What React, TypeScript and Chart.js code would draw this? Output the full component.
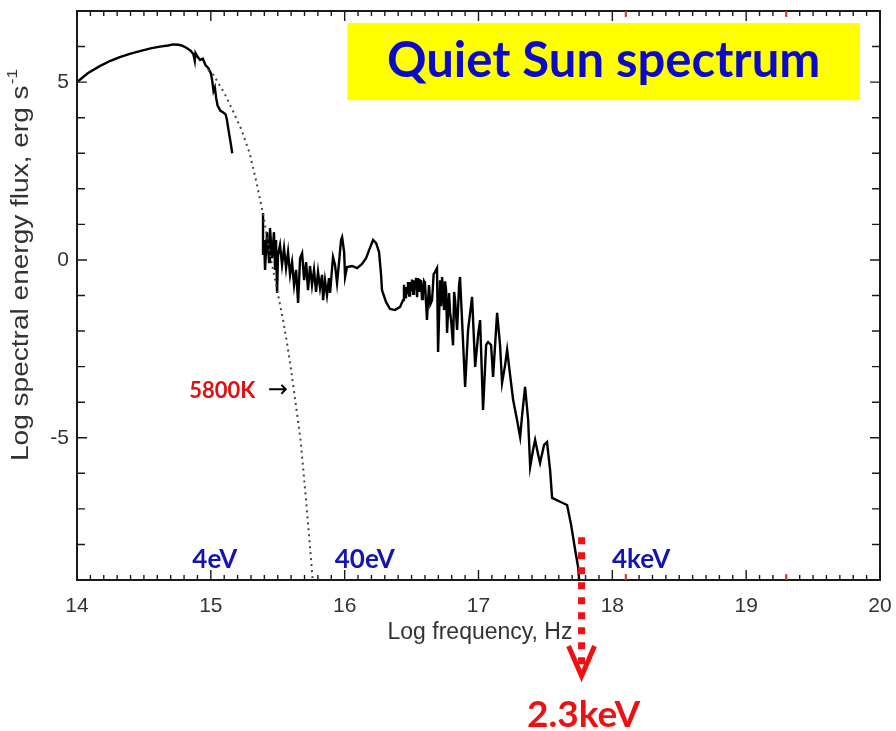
import React, { useEffect, useRef } from "react";
import { Chart, registerables } from "chart.js";

Chart.register(...registerables);

// Photospheric (optical / near-UV) part of the observed spectrum
const seg1X = [14.0, 14.08, 14.17, 14.25, 14.32, 14.4, 14.47, 14.55, 14.62, 14.68, 14.72, 14.76, 14.79, 14.82, 14.85, 14.87, 14.88, 14.885, 14.9, 14.92, 14.94, 14.96, 14.98, 15.0, 15.01, 15.02, 15.03, 15.04, 15.05, 15.07, 15.09, 15.11, 15.12, 15.13, 15.15, 15.16];
const seg1Y = [5.0, 5.25, 5.45, 5.6, 5.7, 5.8, 5.87, 5.95, 6.0, 6.03, 6.06, 6.05, 6.02, 5.96, 5.88, 5.78, 5.6, 5.82, 5.72, 5.62, 5.66, 5.48, 5.4, 5.25, 5.05, 4.75, 4.85, 4.55, 4.35, 4.2, 4.15, 4.1, 3.95, 3.7, 3.25, 3.0];

// EUV / X-ray part of the observed spectrum
const seg2X = [15.39, 15.39, 15.398, 15.405, 15.42, 15.435, 15.442, 15.457, 15.472, 15.48, 15.487, 15.495, 15.502, 15.517, 15.532, 15.547, 15.562, 15.577, 15.592, 15.607, 15.622, 15.637, 15.652, 15.667, 15.682, 15.697, 15.712, 15.726, 15.741, 15.756, 15.771, 15.786, 15.801, 15.816, 15.831, 15.839, 15.853, 15.868, 15.883, 15.891, 15.906, 15.913, 15.928, 15.943, 15.958, 15.973, 15.981, 15.996, 16.003, 16.018, 16.055, 16.093, 16.13, 16.16, 16.189, 16.212, 16.235, 16.257, 16.272, 16.279, 16.309, 16.339, 16.376, 16.414, 16.436, 16.443, 16.451, 16.458, 16.466, 16.473, 16.481, 16.488, 16.496, 16.503, 16.511, 16.518, 16.526, 16.533, 16.541, 16.548, 16.556, 16.563, 16.571, 16.578, 16.585, 16.593, 16.6, 16.615, 16.63, 16.64, 16.653, 16.665, 16.675, 16.69, 16.698, 16.713, 16.72, 16.728, 16.743, 16.75, 16.758, 16.765, 16.78, 16.788, 16.795, 16.81, 16.818, 16.825, 16.84, 16.855, 16.862, 16.877, 16.9, 16.922, 16.952, 16.975, 16.997, 17.012, 17.034, 17.057, 17.072, 17.094, 17.109, 17.139, 17.161, 17.176, 17.199, 17.214, 17.236, 17.259, 17.288, 17.311, 17.326, 17.348, 17.371, 17.386, 17.408, 17.423, 17.446, 17.46, 17.49, 17.512, 17.535, 17.55, 17.61, 17.662, 17.692, 17.722, 17.744, 17.752];
const seg2Y = [1.32, 0.14, 0.56, -0.28, 0.78, -0.06, 0.9, 0.05, 0.78, -0.28, 0.56, -0.93, 0.14, 0.42, -0.14, 0.33, -0.23, 0.22, -0.42, -0.06, -0.71, -0.28, -1.21, 0.05, 0.19, -0.57, -0.06, -0.85, -0.17, -0.71, -0.28, -0.9, -0.34, -0.79, -0.42, -1.13, -0.57, -0.99, -0.51, -0.93, -0.23, 0.08, -0.14, -0.65, -0.06, 0.56, 0.64, 0.22, -0.48, -0.2, -0.17, -0.23, -0.11, 0.05, 0.34, 0.56, 0.47, 0.22, -0.42, -0.85, -1.18, -1.38, -1.41, -1.32, -1.13, -0.7, -1.05, -0.76, -0.93, -0.62, -1.0, -0.62, -0.85, -0.55, -0.95, -0.57, -0.79, -0.5, -1.05, -0.51, -0.9, -0.58, -0.6, -1.1, -0.99, -0.6, -0.65, -1.69, -0.71, -1.25, -1.13, -0.4, -0.34, -0.23, -2.59, -0.57, -1.3, -0.48, -1.41, -0.6, -0.85, -2.05, -0.93, -1.5, -1.69, -2.4, -0.9, -1.13, -1.97, -0.71, -0.48, -1.69, -3.57, -1.97, -1.04, -3.01, -2.11, -1.69, -4.22, -2.39, -2.31, -2.39, -3.29, -1.49, -2.39, -3.46, -2.95, -2.53, -3.23, -3.94, -4.5, -4.98, -4.36, -3.57, -4.5, -5.82, -5.34, -5.06, -5.48, -5.71, -5.2, -5.12, -5.91, -6.69, -6.8, -6.89, -7.45, -8.15, -8.63, -9.0];

// 5800 K blackbody (dotted)
const bbX = [14.98, 15.02, 15.1, 15.17, 15.23, 15.29, 15.34, 15.39, 15.42, 15.45, 15.48, 15.51, 15.54, 15.57, 15.6, 15.62, 15.645, 15.67, 15.69, 15.71, 15.735, 15.76];
const bbY = [5.35, 5.2, 4.7, 4.15, 3.65, 3.0, 2.2, 1.3, 0.65, 0.0, -0.55, -1.12, -1.7, -2.35, -3.1, -3.65, -4.35, -5.05, -5.85, -6.7, -7.8, -8.95];

// Axis ticks
const xTickValues = [14, 15, 16, 17, 18, 19, 20];
const yTickValues = [-5, 0, 5];
const X_MIN = 14, X_MAX = 20, Y_MIN = -9, Y_MAX = 7;
const xTitle = "Log frequency, Hz";
const yTitle = "Log spectral energy flux, erg s";
const yTitleSup = "-1";

// Annotations
const titleText = "Quiet Sun spectrum";
const titleBox = { x0: 16.02, x1: 19.85, y0: 6.66, y1: 4.49 };
const energyLabels = ["4eV", "40eV", "4keV"];
const energyLabelX = [15.03, 16.15, 18.215];
const energyLabelY = -8.44;
const bbLabel = "5800K";
const bbLabelPos = { x: 15.085, y: -3.69 };
const bbArrowPos = { x: 15.5, y: -3.69 };
const cutoffX = 17.77;
const cutoffTopY = -7.8;
const cutoffBottomY = -11.7;
const cutoffLabel = "2.3keV";
const cutoffLabelY = -12.8;
const redTickX = [18.1, 19.3];

const pts = (xs: number[], ys: number[]) => xs.map((x, i) => ({ x, y: ys[i] }));

const SANS = "'Liberation Sans', Arial, sans-serif";
const CAL = "Lato, 'Open Sans', sans-serif";

const decorations = {
  id: "decorations",
  afterDraw(chart: any) {
    const ctx = chart.ctx;
    const xs = chart.scales.x;
    const ys = chart.scales.y;
    const a = chart.chartArea;
    const X = (v: number) => xs.getPixelForValue(v);
    const Y = (v: number) => ys.getPixelForValue(v);
    ctx.save();

    // frame
    ctx.strokeStyle = "#1a1a1a";
    ctx.lineWidth = 2;
    ctx.strokeRect(a.left, a.top, a.right - a.left, a.bottom - a.top);

    // x ticks (major + minor), mirrored on top
    ctx.lineWidth = 1.4;
    for (let i = 0; i <= (X_MAX - X_MIN) * 10; i++) {
      const v = X_MIN + i / 10;
      const p = X(v);
      const len = i % 10 === 0 ? 10 : 5;
      ctx.beginPath();
      ctx.moveTo(p, a.bottom);
      ctx.lineTo(p, a.bottom - len);
      ctx.moveTo(p, a.top);
      ctx.lineTo(p, a.top + len);
      ctx.stroke();
    }
    // y ticks every unit, mirrored on right
    for (let v = Y_MIN; v <= Y_MAX; v++) {
      const p = Y(v);
      const len = v % 5 === 0 ? 10 : 8;
      ctx.beginPath();
      ctx.moveTo(a.left, p);
      ctx.lineTo(a.left + len, p);
      ctx.moveTo(a.right, p);
      ctx.lineTo(a.right - len, p);
      ctx.stroke();
    }
    // small red ticks
    ctx.strokeStyle = "#e53030";
    ctx.lineWidth = 2;
    redTickX.forEach((v) => {
      const p = X(v);
      ctx.beginPath();
      ctx.moveTo(p, a.bottom);
      ctx.lineTo(p, a.bottom - 6);
      ctx.moveTo(p, a.top);
      ctx.lineTo(p, a.top + 6);
      ctx.stroke();
    });

    // tick labels
    ctx.fillStyle = "#333";
    ctx.font = `21px ${SANS}`;
    ctx.textAlign = "center";
    ctx.textBaseline = "middle";
    xTickValues.forEach((v) => ctx.fillText(String(v), X(v), a.bottom + 26));
    ctx.textAlign = "right";
    yTickValues.forEach((v) => ctx.fillText(String(v), a.left - 8, Y(v)));

    // axis titles
    ctx.textAlign = "center";
    ctx.font = `23px ${SANS}`;
    ctx.fillText(xTitle, 480, a.bottom + 53);

    ctx.save();
    ctx.translate(22, 265);
    ctx.rotate(-Math.PI / 2);
    ctx.font = `23px ${SANS}`;
    const w1 = ctx.measureText(yTitle).width;
    ctx.font = `14px ${SANS}`;
    const w2 = ctx.measureText(yTitleSup).width;
    const total = w1 + w2 + 1;
    const k = 392 / total;
    ctx.scale(k, 1);
    const start = -total / 2;
    ctx.textAlign = "left";
    ctx.font = `23px ${SANS}`;
    ctx.fillText(yTitle, start, 0);
    ctx.font = `14px ${SANS}`;
    ctx.fillText(yTitleSup, start + w1 + 1, -9);
    ctx.restore();

    // title box
    ctx.fillStyle = "#ffff00";
    const bx0 = X(titleBox.x0), bx1 = X(titleBox.x1), by0 = Y(titleBox.y0), by1 = Y(titleBox.y1);
    ctx.fillRect(bx0, by0, bx1 - bx0, by1 - by0);
    ctx.fillStyle = "#0a0ac8";
    ctx.font = `bold 49px ${CAL}`;
    ctx.textAlign = "center";
    ctx.textBaseline = "middle";
    ctx.fillText(titleText, (bx0 + bx1) / 2, (by0 + by1) / 2);

    // energy labels
    ctx.fillStyle = "#1414b4";
    ctx.font = `bold 26px ${CAL}`;
    energyLabels.forEach((t, i) => ctx.fillText(t, X(energyLabelX[i]), Y(energyLabelY)));

    // 5800K label + arrow
    ctx.fillStyle = "#e01010";
    ctx.font = `bold 22px ${CAL}`;
    ctx.fillText(bbLabel, X(bbLabelPos.x), Y(bbLabelPos.y));
    ctx.fillStyle = "#000";
    ctx.font = `24px 'DejaVu Sans', sans-serif`;
    ctx.fillText("\u2192", X(bbArrowPos.x), Y(bbArrowPos.y));

    // red dotted cutoff arrow
    const cx = X(cutoffX);
    const tipY = Y(cutoffBottomY);
    ctx.strokeStyle = "#ee1111";
    ctx.lineWidth = 7;
    ctx.setLineDash([7, 8]);
    ctx.beginPath();
    ctx.moveTo(cx, Y(cutoffTopY));
    ctx.lineTo(cx, tipY - 6);
    ctx.stroke();
    ctx.setLineDash([]);
    ctx.lineWidth = 5;
    ctx.beginPath();
    ctx.moveTo(cx - 13, tipY - 30);
    ctx.lineTo(cx, tipY);
    ctx.lineTo(cx + 13, tipY - 30);
    ctx.stroke();
    ctx.fillStyle = "#ee1111";
    ctx.font = `bold 37px ${CAL}`;
    ctx.fillText(cutoffLabel, cx + 2, Y(cutoffLabelY));

    ctx.restore();
  },
};

export default function App() {
  const ref = useRef<HTMLCanvasElement>(null);
  useEffect(() => {
    if (!ref.current) return;
    const chart = new Chart(ref.current, {
      type: "scatter",
      data: {
        datasets: [
          {
            data: pts(bbX, bbY),
            showLine: true,
            borderColor: "#444",
            borderWidth: 2,
            borderDash: [2, 4],
            pointRadius: 0,
            tension: 0,
          },
          {
            data: pts(seg1X, seg1Y),
            showLine: true,
            borderColor: "#000",
            borderWidth: 2.4,
            pointRadius: 0,
          },
          {
            data: pts(seg2X, seg2Y),
            showLine: true,
            borderColor: "#000",
            borderWidth: 2.4,
            pointRadius: 0,
          },
        ],
      },
      options: {
        animation: false,
        responsive: false,
        layout: { padding: { top: 11, right: 16, left: 0, bottom: 0 } },
        plugins: { legend: { display: false }, tooltip: { enabled: false } },
        scales: {
          x: {
            type: "linear",
            min: X_MIN,
            max: X_MAX,
            grid: { display: false, drawTicks: false },
            border: { display: false },
            afterFit: (s: any) => {
              s.height = 151;
            },
            ticks: { display: false },
          },
          y: {
            type: "linear",
            min: Y_MIN,
            max: Y_MAX,
            grid: { display: false, drawTicks: false },
            border: { display: false },
            afterFit: (s: any) => {
              s.width = 77;
            },
            ticks: { display: false },
          },
        },
      },
      plugins: [decorations],
    });
    return () => chart.destroy();
  }, []);
  return (
    <div style={{ position: "absolute", left: 0, top: 0, width: 896, height: 731, background: "#fff" }}>
      <canvas ref={ref} width={896} height={731} style={{ width: 896, height: 731 }} />
    </div>
  );
}
